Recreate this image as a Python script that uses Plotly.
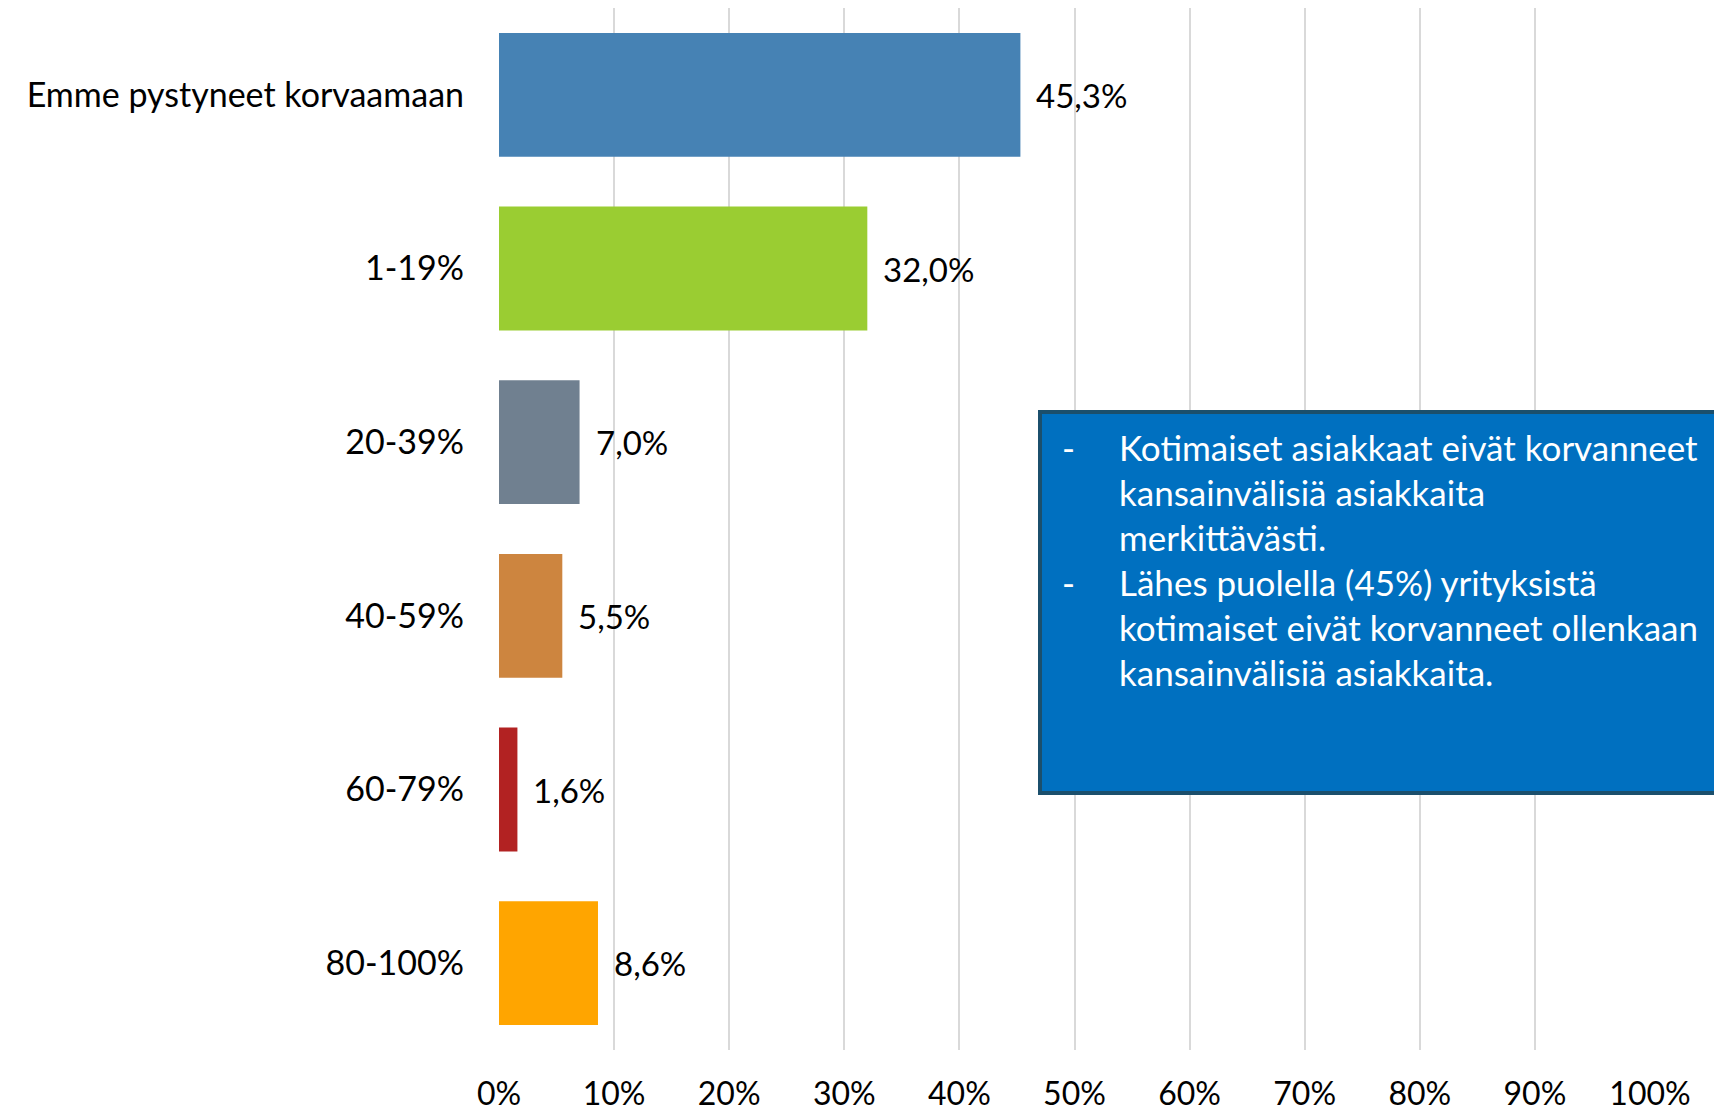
import plotly.graph_objects as go

categories = ["Emme pystyneet korvaamaan", "1-19%", "20-39%", "40-59%", "60-79%", "80-100%"]
values = [45.3, 32.0, 7.0, 5.5, 1.6, 8.6]
colors = ["#4682B4", "#9ACD32", "#708090", "#CD853F", "#B22222", "#FFA500"]
tick_values = [0, 10, 20, 30, 40, 50, 60, 70, 80, 90, 100]
tick_labels = ["0%", "10%", "20%", "30%", "40%", "50%", "60%", "70%", "80%", "90%", "100%"]
box_lines = [
    ("-", "Kotimaiset asiakkaat eivät korvanneet"),
    ("", "kansainvälisiä asiakkaita"),
    ("", "merkittävästi."),
    ("-", "Lähes puolella (45%) yrityksistä"),
    ("", "kotimaiset eivät korvanneet ollenkaan"),
    ("", "kansainvälisiä asiakkaita."),
]

FONT = "Lato, 'Open Sans', sans-serif"
OFF = 8  # page body margin
W, H = 1722 - OFF, 1113 - OFF
ML, MR, MT = 499 - OFF, 72, 0
MB = H - (1050 - OFF)
PW, PH = W - ML - MR, H - MT - MB


def px_x(px):
    return (px - OFF - ML) / PW


def px_y(py):
    return (H - MB - (py - OFF)) / PH


fig = go.Figure()
fig.add_trace(go.Bar(
    y=categories, x=values, orientation="h",
    marker=dict(color=colors, line=dict(width=0)),
    hoverinfo="skip",
))

annotations = []
for c, v in zip(categories, values):
    annotations.append(dict(
        x=v, y=c, xref="x", yref="y", text=f"{v:.1f}%".replace(".", ","),
        showarrow=False, xanchor="left", yanchor="middle", xshift=14,
        font=dict(family=FONT, size=33, color="#000000"),
    ))

# text box
line_y0, line_step = 447, 45
for i, (dash, txt) in enumerate(box_lines):
    yy = px_y(line_y0 + i * line_step)
    if dash:
        annotations.append(dict(
            x=px_x(1060), y=yy, xref="paper", yref="paper", text=dash,
            showarrow=False, xanchor="left", yanchor="middle",
            font=dict(family=FONT, size=35, color="#FFFFFF"),
        ))
    annotations.append(dict(
        x=px_x(1117), y=yy, xref="paper", yref="paper", text=txt,
        showarrow=False, xanchor="left", yanchor="middle",
        font=dict(family=FONT, size=35, color="#FFFFFF"),
    ))

fig.update_layout(
    width=W, height=H,
    margin=dict(l=ML, r=MR, t=MT, b=MB, pad=0, autoexpand=False),
    paper_bgcolor="white", plot_bgcolor="white",
    showlegend=False,
    bargap=0.287,
    font=dict(family=FONT, size=32, color="#000000"),
    xaxis=dict(
        range=[0, 100], tickvals=tick_values, ticktext=tick_labels,
        showgrid=True, gridcolor="#D9D9D9", gridwidth=2,
        zeroline=False, showline=False, ticks="",
        ticklabelstandoff=22, automargin=False,
        tickfont=dict(family=FONT, size=32, color="#000000"),
        fixedrange=True,
    ),
    yaxis=dict(
        categoryorder="array", categoryarray=categories, autorange="reversed",
        showgrid=False, zeroline=False, showline=False, ticks="",
        ticklabelstandoff=34, automargin=False,
        tickfont=dict(family=FONT, size=34, color="#000000"),
        fixedrange=True,
    ),
    shapes=[dict(
        type="rect", xref="paper", yref="paper",
        x0=px_x(1040), x1=px_x(1718), y0=px_y(793), y1=px_y(412),
        fillcolor="#0070C0", line=dict(color="#1B4F6C", width=4), layer="above",
    )],
    annotations=annotations,
)

fig.write_html("out.html")
